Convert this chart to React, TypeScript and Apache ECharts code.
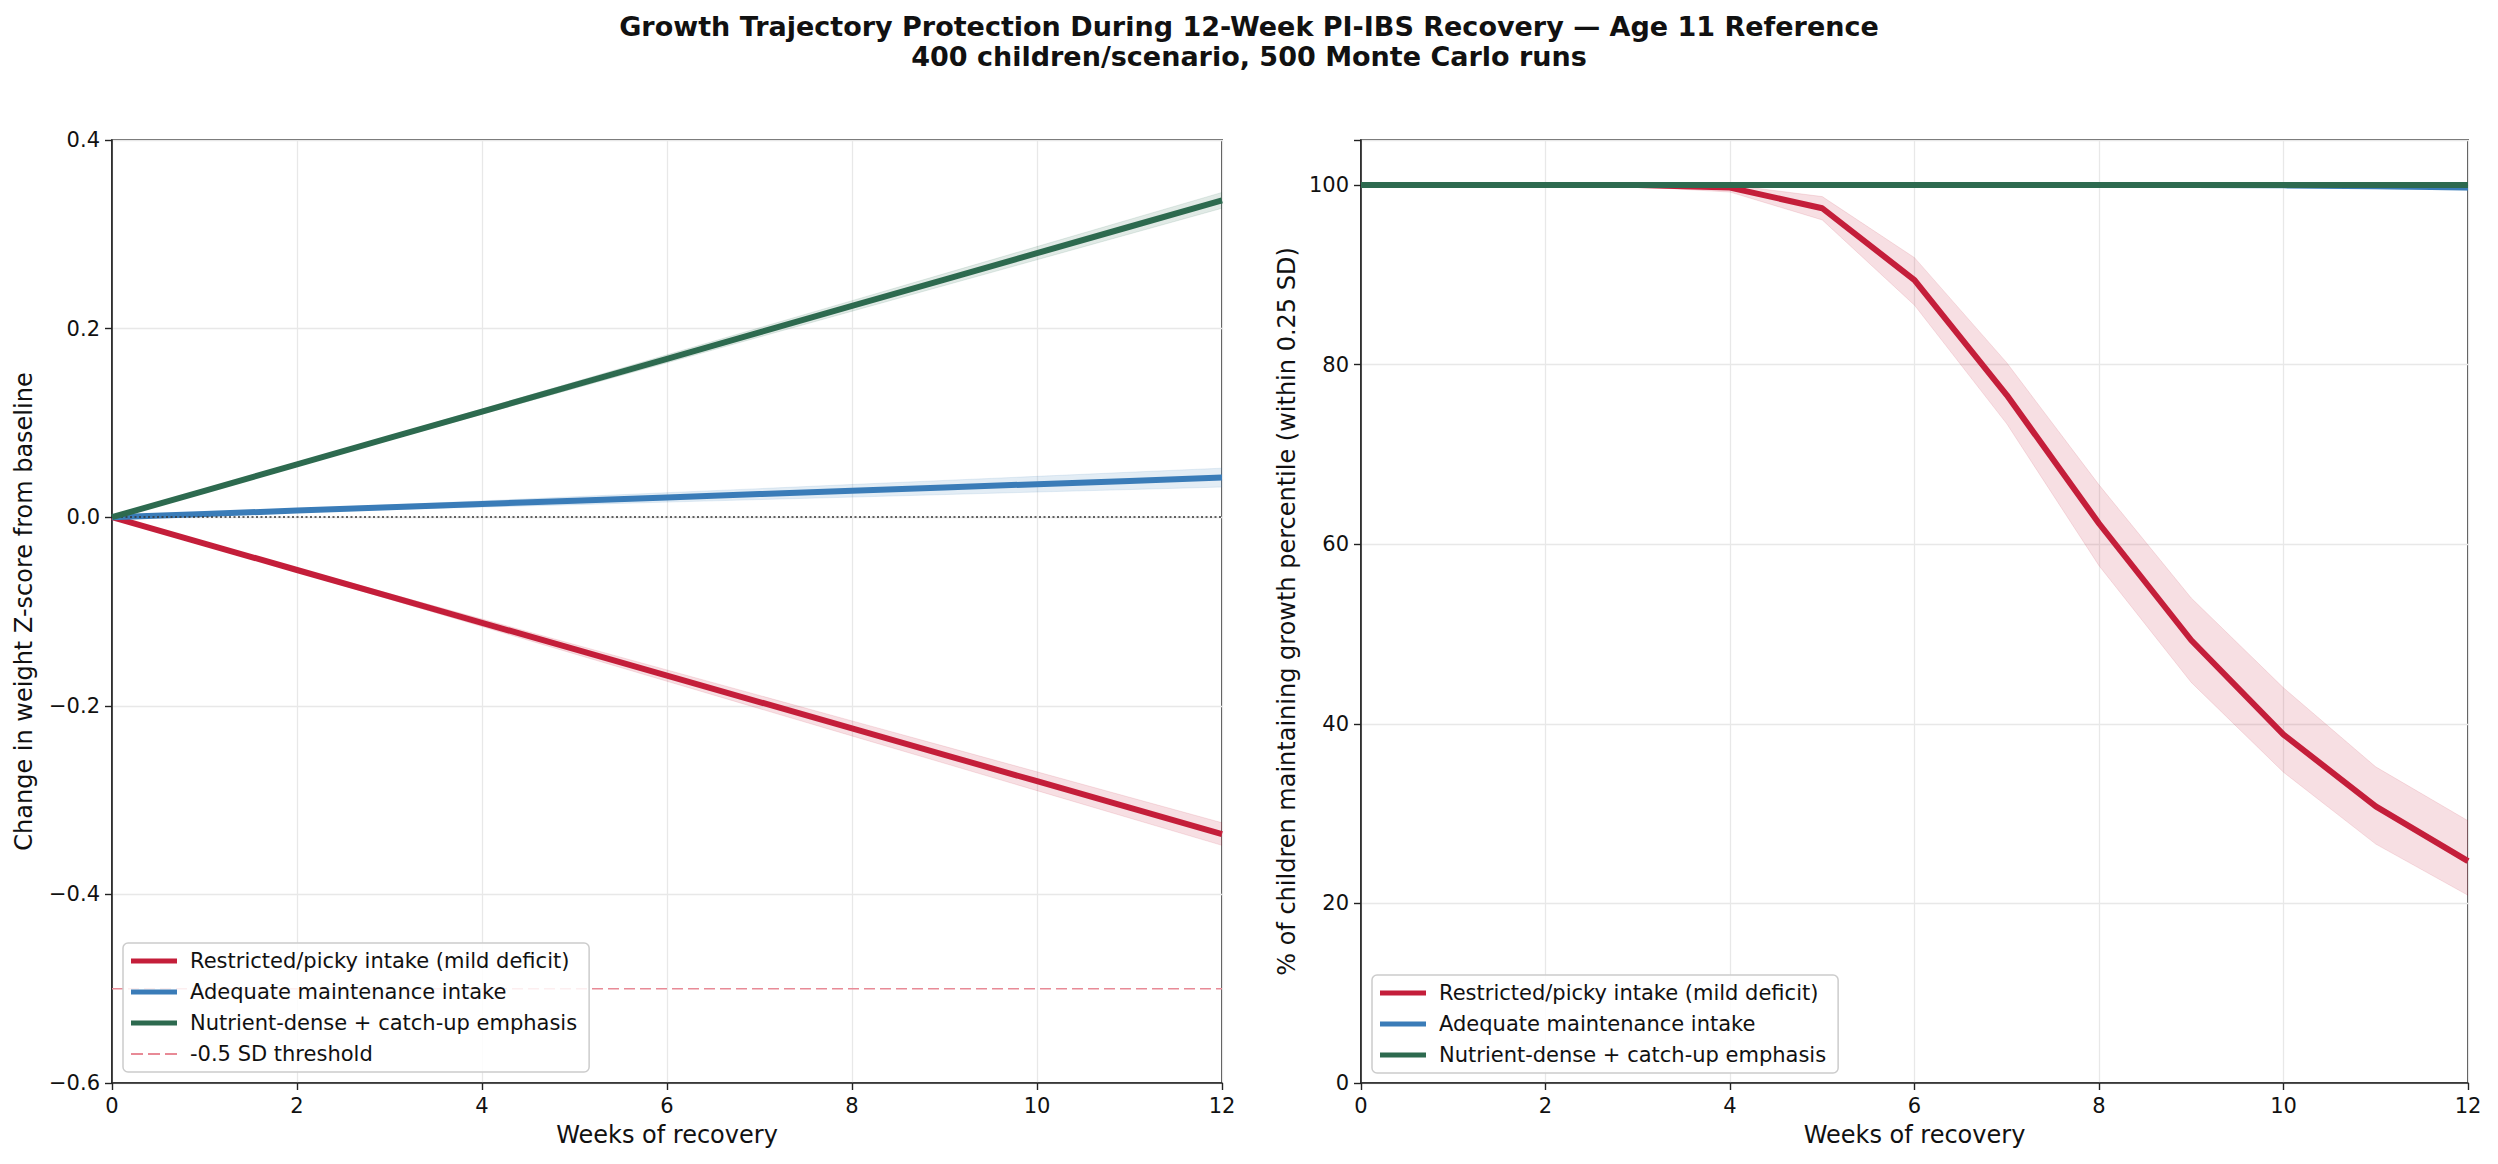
import { useEffect, useRef } from "react";
import * as echarts from "echarts";

const weeks = [0, 1, 2, 3, 4, 5, 6, 7, 8, 9, 10, 11, 12];

const seriesNames = [
  "Restricted/picky intake (mild deficit)",
  "Adequate maintenance intake",
  "Nutrient-dense + catch-up emphasis",
];
const thresholdName = "-0.5 SD threshold";

// Left panel: change in weight Z-score
const zRestricted = [0, -0.028, -0.056, -0.084, -0.112, -0.14, -0.168, -0.196, -0.224, -0.252, -0.28, -0.308, -0.336];
const zRestrictedLo = [0, -0.029, -0.058, -0.087, -0.116, -0.145, -0.174, -0.203, -0.232, -0.261, -0.29, -0.319, -0.348];
const zRestrictedHi = [0, -0.027, -0.054, -0.081, -0.108, -0.135, -0.162, -0.189, -0.216, -0.243, -0.27, -0.297, -0.324];
const zAdequate = [0, 0.0035, 0.007, 0.0105, 0.014, 0.0175, 0.021, 0.0245, 0.028, 0.0315, 0.035, 0.0385, 0.042];
const zAdequateLo = [0, 0.0027, 0.0053, 0.008, 0.0107, 0.0133, 0.016, 0.0187, 0.0213, 0.024, 0.0267, 0.0293, 0.032];
const zAdequateHi = [0, 0.0043, 0.0087, 0.013, 0.0173, 0.0217, 0.026, 0.0303, 0.0347, 0.039, 0.0433, 0.0477, 0.052];
const zNutrient = [0, 0.028, 0.056, 0.084, 0.112, 0.14, 0.168, 0.196, 0.224, 0.252, 0.28, 0.308, 0.336];
const zNutrientLo = [0, 0.0273, 0.0546, 0.0819, 0.1092, 0.1365, 0.1638, 0.1911, 0.2184, 0.2457, 0.273, 0.3003, 0.3276];
const zNutrientHi = [0, 0.0287, 0.0574, 0.0861, 0.1148, 0.1435, 0.1722, 0.2009, 0.2296, 0.2583, 0.287, 0.3157, 0.3444];
const thresholdValue = -0.5;
const zeroValue = 0;

// Right panel: % maintaining growth percentile
const pRestricted = [100, 100, 100, 100, 99.7, 97.4, 89.4, 76.6, 62.3, 49.3, 38.8, 30.8, 24.7];
const pRestrictedLo = [100, 100, 100, 99.8, 99.2, 96.1, 86.6, 73.4, 57.6, 44.6, 34.6, 26.6, 20.9];
const pRestrictedHi = [100, 100, 100, 100, 100, 98.7, 91.9, 80.2, 66.6, 54.0, 44.0, 35.2, 29.2];
const pAdequate = [100, 100, 100, 100, 100, 100, 100, 100, 100, 100, 99.95, 99.85, 99.7];
const pAdequateLo = [100, 100, 100, 100, 100, 100, 100, 99.95, 99.9, 99.85, 99.8, 99.6, 99.4];
const pAdequateHi = [100, 100, 100, 100, 100, 100, 100, 100, 100, 100, 100, 100, 100];
const pNutrient = [100, 100, 100, 100, 100, 100, 100, 100, 100, 100, 100, 100, 100];

const leftYTicks = { min: -0.6, max: 0.4, interval: 0.2 };
const rightYTicks = { min: 0, max: 105, interval: 20 };
const xTicks = { min: 0, max: 12, interval: 2 };

const RED = "#c41e3a";
const BLUE = "#3a7cb8";
const GREEN = "#2d6a4f";
const THRESH = "#e88a96";
const FONT = "DejaVu Sans";

const SOLID_ICON = "path://M0,0H46V5H0Z";
const DASH_ICON = "path://M0,0H12V2H0ZM17,0H29V2H17ZM34,0H46V2H34Z";

function band(axisIndex: number, lo: number[], hi: number[], fill: string, stroke: string) {
  return {
    type: "custom",
    name: "band" + axisIndex + fill,
    xAxisIndex: axisIndex,
    yAxisIndex: axisIndex,
    silent: true,
    clip: true,
    z: 1,
    data: weeks.map((w, i) => [w, lo[i], hi[i]]),
    encode: { x: 0, y: [1, 2] },
    renderItem: (params: any, api: any) => {
      if (params.dataIndex !== 0) return null;
      const pts: number[][] = [];
      for (let i = 0; i < weeks.length; i++) pts.push(api.coord([weeks[i], hi[i]]));
      for (let i = weeks.length - 1; i >= 0; i--) pts.push(api.coord([weeks[i], lo[i]]));
      return {
        type: "polygon",
        shape: { points: pts },
        style: { fill, stroke, lineWidth: 1 },
      };
    },
  };
}

function line(axisIndex: number, name: string, vals: number[], color: string, z: number) {
  return {
    type: "line",
    name,
    xAxisIndex: axisIndex,
    yAxisIndex: axisIndex,
    data: weeks.map((w, i) => [w, vals[i]]),
    showSymbol: false,
    symbol: "none",
    lineStyle: { width: 6, color },
    itemStyle: { color },
    z,
    silent: true,
  };
}

const minus = (s: string) => s.replace("-", "\u2212");

function xAxis(gridIndex: number) {
  return {
    type: "value",
    gridIndex,
    ...xTicks,
    name: "Weeks of recovery",
    nameLocation: "middle",
    nameGap: 40,
    nameTextStyle: { fontSize: 24, color: "#111", fontFamily: FONT },
    axisLine: { show: true, onZero: false, lineStyle: { color: "#222", width: 1.6 } },
    axisTick: { show: true, length: 7, lineStyle: { color: "#222", width: 1.4 } },
    axisLabel: { fontSize: 21, color: "#111", fontFamily: FONT, margin: 12, formatter: (v: number) => String(v) },
    splitLine: { show: true, lineStyle: { color: "#e8e8e8", width: 1.3 } },
  };
}

const legendCommon = {
  orient: "vertical",
  itemWidth: 46,
  itemHeight: 5,
  itemGap: 9,
  selectedMode: false,
  textStyle: { fontSize: 21, lineHeight: 22, color: "#111", fontFamily: FONT, padding: [0, 0, 0, 8] },
  backgroundColor: "rgba(255,255,255,0.85)",
  borderColor: "#cccccc",
  borderWidth: 1.5,
  borderRadius: 5,
  padding: [7, 12, 7, 8],
};

const option: any = {
  animation: false,
  backgroundColor: "#ffffff",
  title: {
    text: "Growth Trajectory Protection During 12-Week PI-IBS Recovery \u2014 Age 11 Reference\n400 children/scenario, 500 Monte Carlo runs",
    left: "center",
    top: 6,
    textStyle: { fontSize: 27, fontWeight: "bold", color: "#111", fontFamily: FONT, lineHeight: 30 },
  },
  grid: [
    { left: 112, top: 140, width: 1110, height: 943, show: true, borderColor: "#222", borderWidth: 1.6, backgroundColor: "transparent" },
    { left: 1361, top: 140, width: 1107, height: 943, show: true, borderColor: "#222", borderWidth: 1.6, backgroundColor: "transparent" },
  ],
  xAxis: [xAxis(0), xAxis(1)],
  yAxis: [
    {
      type: "value",
      gridIndex: 0,
      ...leftYTicks,
      name: "Change in weight Z-score from baseline",
      nameLocation: "middle",
      nameGap: 76,
      nameTextStyle: { fontSize: 24, color: "#111", fontFamily: FONT },
      axisLine: { show: true, onZero: false, lineStyle: { color: "#222", width: 1.6 } },
      axisTick: { show: true, length: 7, lineStyle: { color: "#222", width: 1.4 } },
      axisLabel: { fontSize: 21, color: "#111", fontFamily: FONT, margin: 12, formatter: (v: number) => minus(v.toFixed(1)) },
      splitLine: { show: true, lineStyle: { color: "#e8e8e8", width: 1.3 } },
    },
    {
      type: "value",
      gridIndex: 1,
      ...rightYTicks,
      name: "% of children maintaining growth percentile (within 0.25 SD)",
      nameLocation: "middle",
      nameGap: 62,
      nameTextStyle: { fontSize: 24, color: "#111", fontFamily: FONT },
      axisLine: { show: true, onZero: false, lineStyle: { color: "#222", width: 1.6 } },
      axisTick: { show: true, length: 7, lineStyle: { color: "#222", width: 1.4 } },
      axisLabel: { fontSize: 21, color: "#111", fontFamily: FONT, margin: 12, formatter: (v: number) => (v > 100 ? "" : String(v)) },
      splitLine: { show: true, lineStyle: { color: "#e8e8e8", width: 1.3 } },
    },
  ],
  legend: [
    {
      ...legendCommon,
      left: 123,
      top: 943,
      data: [
        ...seriesNames.map((n) => ({ name: n, icon: SOLID_ICON })),
        { name: thresholdName, icon: DASH_ICON },
      ],
    },
    {
      ...legendCommon,
      left: 1372,
      top: 975,
      data: seriesNames.map((n) => ({ name: n, icon: SOLID_ICON })),
    },
  ],
  series: [
    band(0, zRestrictedLo, zRestrictedHi, "rgba(196,30,58,0.14)", "rgba(196,30,58,0.12)"),
    band(0, zAdequateLo, zAdequateHi, "rgba(58,124,184,0.14)", "rgba(58,124,184,0.12)"),
    band(0, zNutrientLo, zNutrientHi, "rgba(45,106,79,0.14)", "rgba(45,106,79,0.12)"),
    {
      type: "line",
      name: thresholdName,
      xAxisIndex: 0,
      yAxisIndex: 0,
      data: [
        [xTicks.min, thresholdValue],
        [xTicks.max, thresholdValue],
      ],
      showSymbol: false,
      symbol: "none",
      silent: true,
      z: 2,
      lineStyle: { width: 1.5, color: THRESH, type: [11, 5] },
      itemStyle: { color: THRESH },
      markLine: {
        silent: true,
        symbol: ["none", "none"],
        label: { show: false },
        lineStyle: { color: "#333", width: 1.5, type: [2, 2.5] },
        data: [{ yAxis: zeroValue }],
      },
    },
    line(0, seriesNames[0], zRestricted, RED, 3),
    line(0, seriesNames[1], zAdequate, BLUE, 4),
    line(0, seriesNames[2], zNutrient, GREEN, 5),
    band(1, pRestrictedLo, pRestrictedHi, "rgba(196,30,58,0.14)", "rgba(196,30,58,0.12)"),
    band(1, pAdequateLo, pAdequateHi, "rgba(58,124,184,0.14)", "rgba(58,124,184,0.12)"),
    line(1, seriesNames[0], pRestricted, RED, 3),
    line(1, seriesNames[1], pAdequate, BLUE, 4),
    line(1, seriesNames[2], pNutrient, GREEN, 5),
  ],
};

export default function App() {
  const ref = useRef<HTMLDivElement>(null);
  useEffect(() => {
    if (!ref.current) return;
    const chart = echarts.init(ref.current, null, { renderer: "svg" });
    chart.setOption(option);
    return () => chart.dispose();
  }, []);
  return (
    <div
      ref={ref}
      style={{ position: "absolute", left: 0, top: 0, width: 2498, height: 1164, background: "#fff" }}
    />
  );
}
